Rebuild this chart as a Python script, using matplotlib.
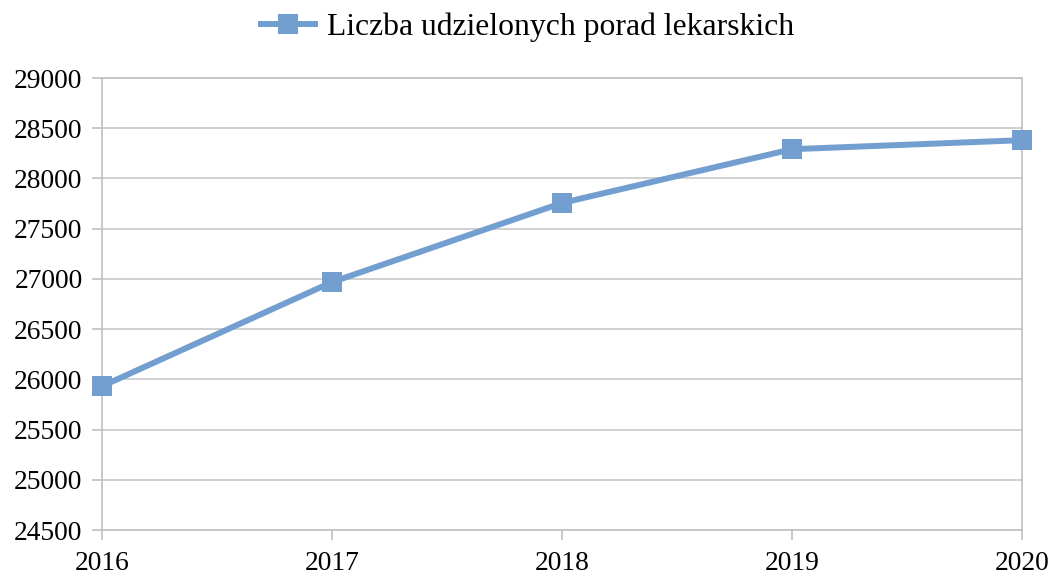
import matplotlib.pyplot as plt

plt.rcParams['font.family'] = ['Liberation Serif', 'DejaVu Serif']

years = ['2016', '2017', '2018', '2019', '2020']
porady = [25932, 26968, 27756, 28291, 28381]
label = 'Liczba udzielonych porad lekarskich'

fig = plt.figure(figsize=(10.51, 5.76), dpi=100)
ax = fig.add_axes([102/1051, 1-530/576, 920/1051, 452/576])

x = range(len(years))
ax.plot(x, porady, color='#729fcf', lw=4.3, marker='s', markersize=14.5,
        markeredgewidth=0, label=label, zorder=3, clip_on=False)

ax.set_xlim(0, len(years)-1)
ax.set_ylim(24500, 29000)
ax.set_yticks(range(24500, 29001, 500))
ax.set_xticks(list(x))
ax.set_xticklabels(years)

ax.grid(axis='y', color='#c8c8c8', lw=1.2)
for s in ax.spines.values():
    s.set_color('#c0c0c0')
    s.set_linewidth(1.2)
ax.tick_params(axis='both', length=7, width=1.2, color='#c0c0c0',
               labelsize=19.8, labelcolor='black')
ax.tick_params(axis='y', pad=7)
ax.tick_params(axis='x', pad=8)

fig.legend(loc='center', bbox_to_anchor=(527.5/1051, 1-27/576), frameon=False,
           fontsize=22.8, handlelength=1.7, handletextpad=0.38)

fig.savefig('out.png', dpi=100)
